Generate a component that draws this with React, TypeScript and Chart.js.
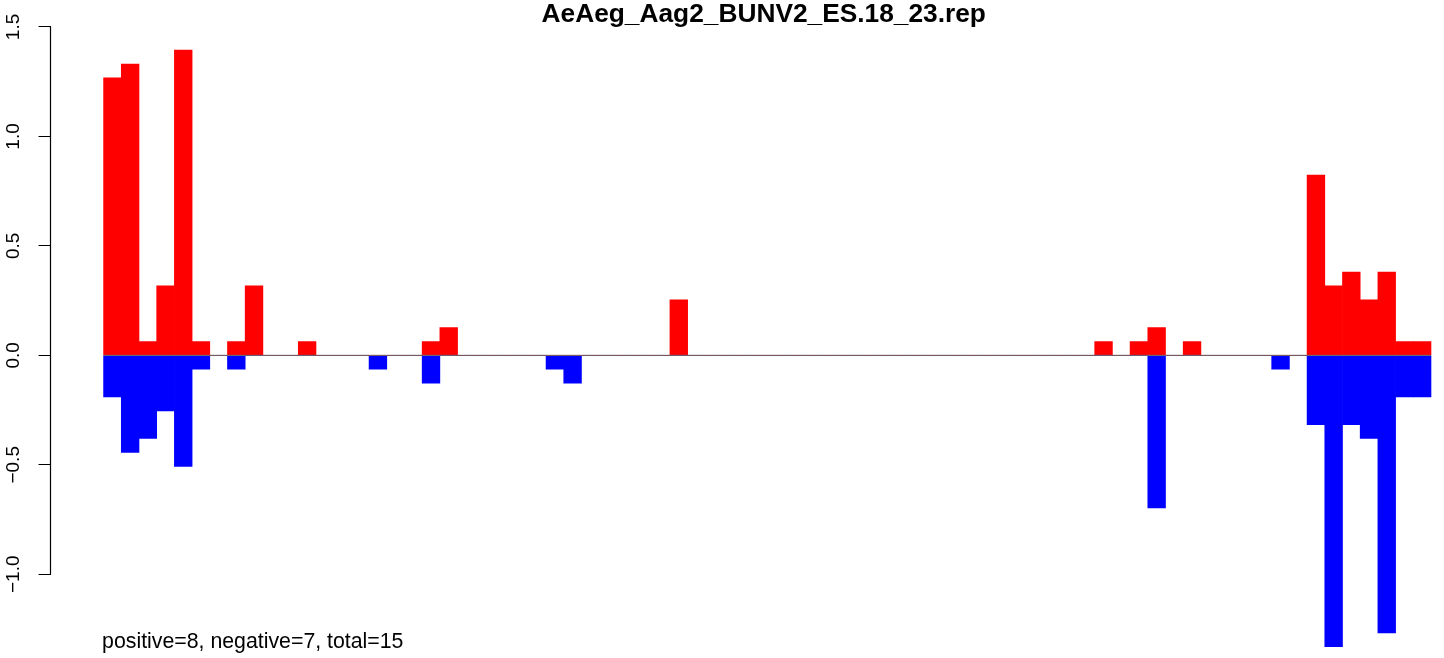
import React, { useEffect, useRef } from "react";
import { Chart, registerables } from "chart.js";

Chart.register(...registerables);

const TITLE = "AeAeg_Aag2_BUNV2_ES.18_23.rep";
const SUBTITLE = "positive=8, negative=7, total=15";
const FONT = '"Liberation Sans", Arial, Helvetica, sans-serif';

// one value per bin (75 bins)
const positive = [
  1.268, 1.331, 0.063, 0.317, 1.395, 0.063, 0, 0.063, 0.317, 0,
  0, 0.063, 0, 0, 0, 0, 0, 0, 0.063, 0.127,
  0, 0, 0, 0, 0, 0, 0, 0, 0, 0,
  0, 0, 0.254, 0, 0, 0, 0, 0, 0, 0,
  0, 0, 0, 0, 0, 0, 0, 0, 0, 0,
  0, 0, 0, 0, 0, 0, 0.063, 0, 0.063, 0.127,
  0, 0.063, 0, 0, 0, 0, 0, 0, 0.824, 0.317,
  0.38, 0.254, 0.38, 0.063, 0.063,
];

const negative = [
  -0.19, -0.444, -0.38, -0.254, -0.507, -0.063, 0, -0.063, 0, 0,
  0, 0, 0, 0, 0, -0.063, 0, 0, -0.127, 0,
  0, 0, 0, 0, 0, -0.063, -0.127, 0, 0, 0,
  0, 0, 0, 0, 0, 0, 0, 0, 0, 0,
  0, 0, 0, 0, 0, 0, 0, 0, 0, 0,
  0, 0, 0, 0, 0, 0, 0, 0, 0, -0.697,
  0, 0, 0, 0, 0, 0, -0.063, 0, -0.317, -1.331,
  -0.317, -0.38, -1.268, -0.19, -0.19,
];

const yTicks = [-1, -0.5, 0, 0.5, 1, 1.5];
const zeroLine = [0, 0];

export default function App() {
  const ref = useRef<HTMLCanvasElement>(null);

  useEffect(() => {
    const canvas = ref.current;
    if (!canvas) return;

    const nBins = positive.length;

    const rAxis = {
      id: "rAxis",
      afterDraw(chart: any) {
        const ys = chart.scales.y;
        const xs = chart.scales.x;
        const ctx = chart.ctx;
        ctx.save();
        ctx.strokeStyle = "#000";
        ctx.lineWidth = 1.2;
        ctx.beginPath();
        ctx.moveTo(ys.right, ys.getPixelForValue(yTicks[0]));
        ctx.lineTo(ys.right, ys.getPixelForValue(yTicks[yTicks.length - 1]));
        ctx.stroke();
        ctx.fillStyle = "#000";
        ctx.font = `21.3px ${FONT}`;
        ctx.textAlign = "left";
        ctx.textBaseline = "alphabetic";
        ctx.fillText(SUBTITLE, xs.getPixelForValue(0) - 1.5, 648);
        ctx.restore();
      },
    };

    const chart = new Chart(canvas, {
      type: "bar",
      data: {
        datasets: [
          {
            type: "line",
            data: [
              { x: 0, y: zeroLine[0] },
              { x: nBins, y: zeroLine[1] },
            ],
            borderColor: "#666666",
            borderWidth: 1,
            pointRadius: 0,
            order: 0,
          } as any,
          {
            data: positive.map((v, i) => ({ x: i + 0.5, y: v })),
            backgroundColor: "#FF0000",
            borderWidth: 0,
            grouped: false,
            barPercentage: 1,
            categoryPercentage: 1,
            order: 1,
          },
          {
            data: negative.map((v, i) => ({ x: i + 0.5, y: v })),
            backgroundColor: "#0000FF",
            borderWidth: 0,
            grouped: false,
            barPercentage: 1,
            categoryPercentage: 1,
            order: 1,
          },
        ],
      },
      options: {
        responsive: false,
        animation: false,
        layout: { padding: { left: 0, right: 5, top: 0, bottom: 0 } },
        plugins: {
          legend: { display: false },
          tooltip: { enabled: false },
          title: {
            display: true,
            text: TITLE,
            fullSize: false,
            color: "#000",
            font: { family: FONT, size: 26.3, weight: "bold", lineHeight: 0.95 },
            padding: { top: 2, bottom: 0 },
          },
        },
        scales: {
          x: {
            type: "linear",
            min: -3,
            max: 77.6,
            offset: false,
            bounds: "ticks",
            display: false,
          },
          y: {
            min: -1.3826,
            max: 1.5,
            afterFit: (s: any) => {
              s.width = 50.5;
              s.paddingTop = 0;
              s.paddingBottom = 0;
            },
            afterBuildTicks: (s: any) => {
              s.ticks = yTicks.map((v) => ({ value: v }));
            },
            border: { display: false },
            grid: {
              display: true,
              drawOnChartArea: false,
              drawTicks: true,
              tickLength: 12,
              color: "#000",
              lineWidth: 1,
            },
            ticks: {
              minRotation: 90,
              maxRotation: 90,
              crossAlign: "center",
              padding: 5.6,
              color: "#000",
              font: { family: FONT, size: 19 },
              callback: (v: any) => {
                const n = Number(v);
                return (n < 0 ? "\u2212" : "") + Math.abs(n).toFixed(1);
              },
            },
          },
        },
      },
      plugins: [rAxis],
    });

    return () => chart.destroy();
  }, []);

  return (
    <div
      style={{
        position: "absolute",
        left: 0,
        top: 0,
        width: 1444,
        height: 658,
        overflow: "hidden",
        background: "#fff",
      }}
    >
      <canvas ref={ref} width={1482} height={658} style={{ display: "block" }} />
    </div>
  );
}
